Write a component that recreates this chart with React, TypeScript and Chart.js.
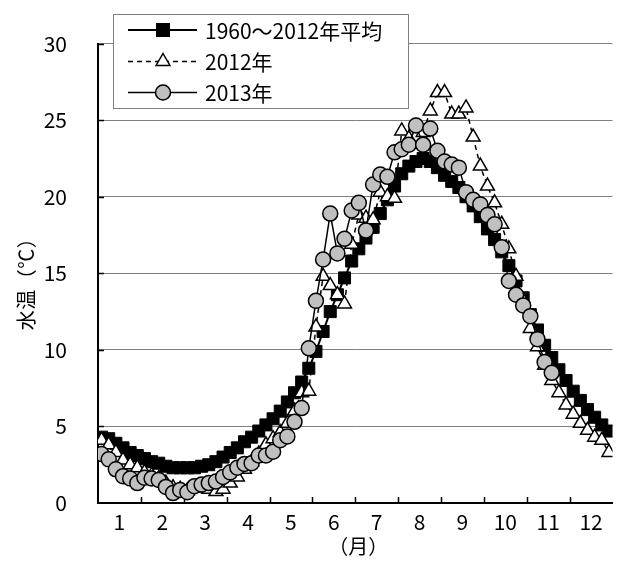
import React, { useEffect, useRef } from 'react';
import { Chart, registerables } from 'chart.js';

Chart.register(...registerables);

// Month labels (each month = 6 half-decade periods, 72 per year)
const MONTHS = ['1', '2', '3', '4', '5', '6', '7', '8', '9', '10', '11', '12'];
const PERIODS_PER_MONTH = 6;
const Y_TICKS = [0, 5, 10, 15, 20, 25, 30];
const LEGEND_LABELS = ['1960～2012年平均', '2012年', '2013年'];
const Y_TITLE = '水温（℃）';
const X_TITLE = '（月）';

const AVG_1960_2012 = [
  4.3, 4.2, 3.9, 3.6, 3.3, 3.1,
  2.9, 2.7, 2.6, 2.4, 2.3, 2.3,
  2.3, 2.3, 2.4, 2.5, 2.7, 3.0,
  3.3, 3.6, 4.0, 4.3, 4.7, 5.1,
  5.5, 6.0, 6.6, 7.2, 7.9, 8.8,
  9.9, 11.2, 12.5, 13.6, 14.7, 15.8,
  16.6, 17.3, 18.0, 18.9, 19.8, 20.7,
  21.5, 22.0, 22.3, 22.5, 22.3, 21.9,
  21.4, 21.0, 20.6, 20.0, 19.4, 18.7,
  17.9, 17.2, 16.4, 15.5, 14.5, 13.4,
  12.3, 11.3, 10.3, 9.5, 8.7, 8.0,
  7.3, 6.7, 6.1, 5.6, 5.1, 4.7,
];

const Y2012 = [
  4.1, 3.8, 3.3, 2.8, 2.5, 2.3,
  2.0, 1.8, 1.6, 1.3, 1.0, 0.9,
  0.8, 1.0, 1.0, 0.9, 0.75, 0.9,
  1.3, 1.7, 2.2, 2.7, 3.2, 3.8,
  4.2, 4.6, 5.2, 6.0, 7.2, 7.3,
  11.5, 14.8, 14.2, 13.6, 13.0, 16.9,
  18.8, 18.6, 18.5, 20.3, 20.0, 19.9,
  24.3, 23.8, 24.6, 24.2, 25.6, 26.8,
  26.8, 25.4, 25.4, 25.8, 23.9, 22.0,
  20.7, 19.6, 18.2, 16.6, 14.8, 13.2,
  11.4, 10.2, 9.0, 8.0, 7.2, 6.4,
  5.8, 5.2, 4.75, 4.3, 4.1, 3.3,
];

const Y2013 = [
  3.2, 2.85, 2.2, 1.75, 1.6, 1.3,
  1.65, 1.6, 1.5, 1.05, 0.65, 0.85,
  0.7, 1.1, 1.2, 1.3, 1.4, 1.7,
  2.0, 2.3, 2.55, 2.6, 3.1, 3.1,
  3.35, 4.1, 4.35, 5.3, 6.2, 10.1,
  13.2, 15.9, 18.9, 16.3, 17.25, 19.1,
  19.6, 17.8, 20.8, 21.45, 21.3, 22.9,
  23.1, 23.4, 24.65, 23.4, 24.45, 23.0,
  22.3, 22.1, 21.9, 20.3, 19.8, 19.5,
  18.8, 18.2, 16.7, 14.5, 13.6, 12.9,
  12.2, 10.7, 9.2, 8.5,
];

const FONT = '"Noto Sans CJK JP", "Noto Sans", sans-serif';

const toPoints = (arr: number[]) => arr.map((v, i) => ({ x: i + 0.5, y: v }));

// draw a string with fixed full-width cells (each char centered in a cell)
function drawCells(ctx: CanvasRenderingContext2D, text: string, cx: number, cy: number, cell: number) {
  const chars = Array.from(text);
  const start = cx - (chars.length * cell) / 2 + cell / 2;
  chars.forEach((ch, i) => ctx.fillText(ch, start + i * cell, cy));
}

const decorPlugin = {
  id: 'decor',
  beforeDatasetsDraw(chart: any) {
    const { ctx, chartArea, scales } = chart;
    const x = scales.x;
    const y = scales.y;
    ctx.save();
    ctx.strokeStyle = '#000';
    ctx.lineWidth = 1.5;
    ctx.beginPath();
    for (let m = 1; m < MONTHS.length; m++) {
      const px = Math.round(x.getPixelForValue(m * PERIODS_PER_MONTH)) + 0.5;
      ctx.moveTo(px, chartArea.bottom);
      ctx.lineTo(px, chartArea.bottom - 6);
    }
    for (const v of Y_TICKS) {
      if (v === 0) continue;
      const py = Math.round(y.getPixelForValue(v)) + 0.5;
      ctx.moveTo(chartArea.left, py);
      ctx.lineTo(chartArea.left + 6, py);
    }
    ctx.stroke();
    ctx.restore();
  },
  afterDraw(chart: any) {
    const { ctx, chartArea } = chart;
    ctx.save();

    // axis titles
    ctx.fillStyle = '#000';
    ctx.font = `20px ${FONT}`;
    ctx.textAlign = 'center';
    ctx.textBaseline = 'middle';
    drawCells(ctx, X_TITLE, (chartArea.left + chartArea.right) / 2 + 3, 546, 20);
    ctx.save();
    ctx.translate(26, (chartArea.top + chartArea.bottom) / 2 + 6);
    ctx.rotate(-Math.PI / 2);
    drawCells(ctx, Y_TITLE, 0, 0, 20.5);
    ctx.restore();

    // legend box
    const bx = 113.5, by = 14.5, bw = 295, bh = 94;
    ctx.fillStyle = '#fff';
    ctx.fillRect(bx, by, bw, bh);
    ctx.strokeStyle = '#808080';
    ctx.lineWidth = 1;
    ctx.strokeRect(bx, by, bw, bh);

    const rows = [30, 61.5, 92.5];
    const x0 = 128, x1 = 197, mx = 163;
    ctx.font = `21px ${FONT}`;
    ctx.textBaseline = 'middle';
    ctx.textAlign = 'left';

    // row 1: average
    ctx.strokeStyle = '#000';
    ctx.lineWidth = 2;
    ctx.setLineDash([]);
    ctx.beginPath(); ctx.moveTo(x0, rows[0]); ctx.lineTo(x1, rows[0]); ctx.stroke();
    ctx.fillStyle = '#000';
    ctx.fillRect(mx - 7, rows[0] - 7, 14, 14);

    // row 2: 2012
    ctx.lineWidth = 1.5;
    ctx.setLineDash([5, 4]);
    ctx.beginPath(); ctx.moveTo(x0, rows[1]); ctx.lineTo(x1, rows[1]); ctx.stroke();
    ctx.setLineDash([]);
    const r = 8;
    ctx.beginPath();
    ctx.moveTo(mx, rows[1] - r);
    ctx.lineTo(mx + r * 0.866, rows[1] + r / 2);
    ctx.lineTo(mx - r * 0.866, rows[1] + r / 2);
    ctx.closePath();
    ctx.fillStyle = '#fff';
    ctx.fill();
    ctx.stroke();

    // row 3: 2013
    ctx.beginPath(); ctx.moveTo(x0, rows[2]); ctx.lineTo(x1, rows[2]); ctx.stroke();
    ctx.beginPath();
    ctx.arc(mx, rows[2], 7.5, 0, Math.PI * 2);
    ctx.fillStyle = '#c0c0c0';
    ctx.fill();
    ctx.stroke();

    ctx.fillStyle = '#000';
    LEGEND_LABELS.forEach((t, i) => ctx.fillText(t, 205, rows[i] + 1));
    ctx.restore();
  },
};

export default function App() {
  const ref = useRef<HTMLCanvasElement | null>(null);

  useEffect(() => {
    if (!ref.current) return;
    const chart = new Chart(ref.current, {
      type: 'line',
      data: {
        datasets: [
          {
            label: LEGEND_LABELS[0],
            data: toPoints(AVG_1960_2012),
            borderColor: '#000',
            borderWidth: 2,
            pointStyle: 'rect',
            pointRadius: 8.5,
            pointBackgroundColor: '#000',
            pointBorderColor: '#000',
            pointBorderWidth: 1,
            order: 3,
          },
          {
            label: LEGEND_LABELS[1],
            data: toPoints(Y2012),
            borderColor: '#000',
            borderWidth: 1.5,
            borderDash: [5, 4],
            pointStyle: 'triangle',
            pointRadius: 8,
            pointBackgroundColor: '#fff',
            pointBorderColor: '#000',
            pointBorderWidth: 1.5,
            order: 2,
          },
          {
            label: LEGEND_LABELS[2],
            data: toPoints(Y2013),
            borderColor: '#000',
            borderWidth: 1.5,
            pointStyle: 'circle',
            pointRadius: 7.5,
            pointBackgroundColor: '#c0c0c0',
            pointBorderColor: '#000',
            pointBorderWidth: 1.5,
            order: 1,
          },
        ],
      },
      options: {
        responsive: false,
        animation: false,
        events: [],
        layout: { padding: { left: 0, right: 1, top: 42, bottom: 0 } },
        plugins: {
          legend: { display: false },
          tooltip: { enabled: false },
        },
        scales: {
          x: {
            type: 'linear',
            min: 0,
            max: MONTHS.length * PERIODS_PER_MONTH,
            afterBuildTicks: (s: any) => {
              s.ticks = MONTHS.map((_, k) => ({ value: k * PERIODS_PER_MONTH + PERIODS_PER_MONTH / 2 }));
            },
            afterFit: (s: any) => { s.height = 63; },
            grid: { display: false, drawTicks: false },
            border: { display: true, color: '#000', width: 2 },
            ticks: {
              autoSkip: false,
              maxRotation: 0,
              padding: 6,
              color: '#000',
              font: { family: FONT, size: 21 },
              callback: (_v: any, i: number) => MONTHS[i],
            },
            title: { display: false },
          },
          y: {
            min: 0,
            max: 30,
            afterBuildTicks: (s: any) => { s.ticks = Y_TICKS.map((v) => ({ value: v })); },
            afterFit: (s: any) => { s.width = 98; },
            grid: {
              drawTicks: false,
              color: (c: any) => (c.tick && c.tick.value === 0 ? 'rgba(0,0,0,0)' : '#808080'),
              lineWidth: 1,
            },
            border: { display: true, color: '#000', width: 2 },
            ticks: {
              padding: 31,
              color: '#000',
              font: { family: FONT, size: 21 },
            },
            title: { display: false },
          },
        },
      },
      plugins: [decorPlugin],
    });
    return () => chart.destroy();
  }, []);

  return (
    <div style={{ position: 'absolute', left: 0, top: 0, width: 622, height: 566, background: '#fff' }}>
      <canvas ref={ref} width={622} height={566} style={{ display: 'block' }} />
    </div>
  );
}
